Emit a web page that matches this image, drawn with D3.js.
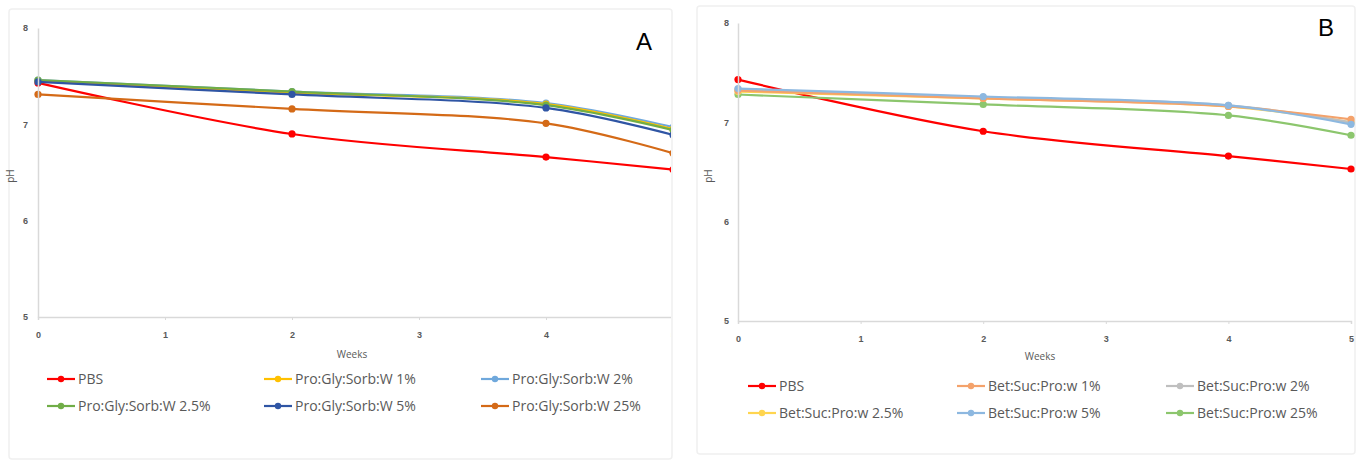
<!DOCTYPE html>
<html><head><meta charset="utf-8">
<script src="https://cdn.jsdelivr.net/npm/d3@7"></script>
<style>
html,body{margin:0;padding:0;background:#fff;}
svg{display:block;font-family:"Open Sans","Noto Sans",sans-serif;}
</style></head>
<body><svg id="c" width="1361" height="464"></svg>
<script>
const weeks = [0, 2, 4, 5];
const yTicks = [5, 6, 7, 8];
const xTicks = [0, 1, 2, 3, 4, 5];

const namesA = ["PBS", "Pro:Gly:Sorb:W 1%", "Pro:Gly:Sorb:W 2%", "Pro:Gly:Sorb:W 2.5%", "Pro:Gly:Sorb:W 5%", "Pro:Gly:Sorb:W 25%"];
const colorsA = ["#ff0000", "#ffc000", "#6fa8dc", "#70ad47", "#2f55a4", "#d46a17"];
const pbsA = [7.43, 6.90, 6.66, 6.53];
const a1 = [7.45, 7.33, 7.21, 6.95];
const a2 = [7.46, 7.34, 7.22, 6.97];
const a25 = [7.46, 7.34, 7.20, 6.94];
const a5 = [7.44, 7.31, 7.17, 6.89];
const a25p = [7.31, 7.16, 7.01, 6.70];

const namesB = ["PBS", "Bet:Suc:Pro:w 1%", "Bet:Suc:Pro:w 2%", "Bet:Suc:Pro:w 2.5%", "Bet:Suc:Pro:w 5%", "Bet:Suc:Pro:w 25%"];
const colorsB = ["#ff0000", "#f4a26b", "#bfbfbf", "#ffd54f", "#8db8e0", "#8cc66d"];
const pbsB = [7.43, 6.91, 6.66, 6.53];
const b1 = [7.32, 7.24, 7.16, 7.03];
const b2 = [7.33, 7.25, 7.17, 7.00];
const b25 = [7.31, 7.24, 7.16, 7.00];
const b5 = [7.34, 7.26, 7.17, 6.98];
const b25p = [7.28, 7.18, 7.07, 6.87];

const svg = d3.select("#c");

function panel(cfg) {
  const g = svg.append("g");
  g.append("rect").attr("x", cfg.card[0]).attr("y", cfg.card[1])
    .attr("width", cfg.card[2]).attr("height", cfg.card[3])
    .attr("fill", "#fff").attr("stroke", "#f0f0f0").attr("stroke-width", 1.5).attr("rx", 3);
  const x = d3.scaleLinear().domain([0, 5]).range([cfg.x0, cfg.x5]);
  const y = d3.scaleLinear().domain([5, 8]).range([cfg.y5, cfg.y8]);
  const clipId = "clip" + cfg.id;
  svg.append("clipPath").attr("id", clipId).append("rect")
    .attr("x", cfg.x0 - 10).attr("y", cfg.y8 - 10).attr("width", cfg.clipX - cfg.x0 + 10).attr("height", cfg.y5 - cfg.y8 + 40);
  const gc = g.append("g").attr("clip-path", `url(#${clipId})`);
  const yAxis = d3.axisLeft(y).tickValues(yTicks).tickSize(0).tickPadding(cfg.x0 - cfg.yLabX).tickFormat(d3.format("d"));
  const ya = g.append("g").attr("transform", `translate(${cfg.x0},0)`).call(yAxis);
  ya.select(".domain").attr("stroke", "#d9d9d9").attr("stroke-width", 1.5);
  ya.selectAll("text").attr("fill", "#595959").attr("font-size", 9).attr("font-weight", "bold");
  const xAxis = d3.axisBottom(x).tickValues(xTicks).tickSize(3).tickPadding(cfg.xTickPad).tickFormat(d3.format("d"));
  const xa = gc.append("g").attr("transform", `translate(0,${cfg.y5})`).call(xAxis);
  xa.select(".domain").attr("stroke", "#d9d9d9").attr("stroke-width", 1.5);
  xa.selectAll(".tick line").attr("stroke", "#d9d9d9");
  xa.selectAll("text").attr("fill", "#595959").attr("font-size", 9).attr("font-weight", "bold");
  g.append("text").attr("x", cfg.weeksX).attr("y", cfg.weeksY).attr("text-anchor", "middle")
    .attr("font-size", 10).attr("fill", "#595959").text("Weeks");
  g.append("text").attr("transform", `translate(${cfg.phX},${cfg.phY}) rotate(-90)`).attr("text-anchor", "middle")
    .attr("font-size", 10).attr("fill", "#595959").text("pH");
  g.append("text").attr("x", cfg.letterX).attr("y", cfg.letterY).attr("font-size", 24)
    .attr("font-family", "Liberation Sans, sans-serif").attr("fill", "#000").text(cfg.letter);
  const line = d3.line().x((d, i) => x(weeks[i])).y(d => y(d)).curve(d3.curveCatmullRom.alpha(0.5));
  cfg.order.forEach(k => {
    const s = cfg.series[k];
    gc.append("path").attr("d", line(s)).attr("fill", "none").attr("stroke", cfg.colors[k]).attr("stroke-width", 2.2);
    gc.selectAll(null).data(s).enter().append("circle")
      .attr("cx", (d, i) => x(weeks[i])).attr("cy", d => y(d)).attr("r", 3.6).attr("fill", cfg.colors[k]);
  });
  cfg.names.forEach((n, k) => {
    const col = k % 3, row = Math.floor(k / 3);
    const lx = cfg.legX[col], ly = cfg.legY[row];
    g.append("line").attr("x1", lx).attr("x2", lx + 28).attr("y1", ly).attr("y2", ly)
      .attr("stroke", cfg.colors[k]).attr("stroke-width", 2.2);
    g.append("circle").attr("cx", lx + 14).attr("cy", ly).attr("r", 3.2).attr("fill", cfg.colors[k]);
    g.append("text").attr("x", lx + 31).attr("y", ly).attr("dy", "0.35em").attr("font-size", 14)
      .attr("fill", "#595959").text(n);
  });
}

panel({
  id: "A", card: [9, 9, 663, 450],
  x0: 38, x5: 673, clipX: 671, y8: 28, y5: 317, yLabX: 28, xTickPad: 12,
  weeksX: 352, weeksY: 358, phX: 14, phY: 176, letterX: 636, letterY: 50, letter: "A",
  names: namesA, colors: colorsA, series: [pbsA, a1, a2, a25, a5, a25p], order: [0, 5, 2, 1, 3, 4],
  legX: [47, 264, 481], legY: [379, 406]
});
panel({
  id: "B", card: [697, 6, 658, 448],
  x0: 738, x5: 1351, clipX: 1356, y8: 23, y5: 321, yLabX: 729, xTickPad: 12,
  weeksX: 1040, weeksY: 360, phX: 712, phY: 176, letterX: 1318, letterY: 36, letter: "B",
  names: namesB, colors: colorsB, series: [pbsB, b1, b2, b25, b5, b25p], order: [0, 5, 3, 2, 1, 4],
  legX: [748, 957, 1166], legY: [386, 413]
});
</script></body></html>
